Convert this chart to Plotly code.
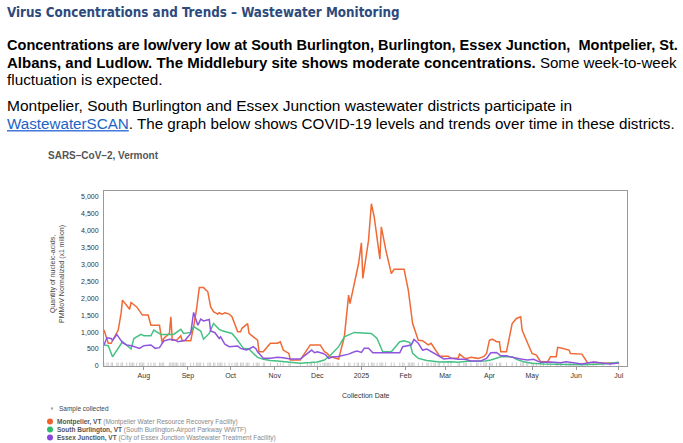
import plotly.graph_objects as go

# ---------------- data ----------------
montpelier_dates = ["2024-07-04","2024-07-07","2024-07-09","2024-07-14","2024-07-16","2024-07-17","2024-07-22","2024-07-23","2024-07-27","2024-07-31",
"2024-08-04","2024-08-06","2024-08-12","2024-08-14","2024-08-15","2024-08-19","2024-08-20","2024-08-21","2024-08-24","2024-08-27","2024-08-28",
"2024-09-03","2024-09-05","2024-09-07","2024-09-09","2024-09-12","2024-09-15","2024-09-17","2024-09-19","2024-09-22","2024-09-23","2024-09-25","2024-09-27","2024-09-30",
"2024-10-02","2024-10-04","2024-10-06","2024-10-08","2024-10-09","2024-10-13","2024-10-14","2024-10-17","2024-10-20","2024-10-21","2024-10-24","2024-10-25","2024-10-29",
"2024-11-03","2024-11-05","2024-11-07","2024-11-11","2024-11-12","2024-11-19","2024-11-26",
"2024-12-03","2024-12-06","2024-12-08","2024-12-10","2024-12-16","2024-12-20","2024-12-23","2024-12-24","2024-12-27","2024-12-30",
"2025-01-01","2025-01-02","2025-01-06","2025-01-08","2025-01-10","2025-01-14","2025-01-15","2025-01-18","2025-01-22","2025-01-24","2025-01-31",
"2025-02-03","2025-02-06","2025-02-10","2025-02-13","2025-02-17","2025-02-19","2025-02-22","2025-02-24","2025-02-25",
"2025-03-03","2025-03-05","2025-03-10","2025-03-11","2025-03-14","2025-03-16","2025-03-19","2025-03-24","2025-03-28","2025-03-30",
"2025-04-01","2025-04-03","2025-04-06","2025-04-08","2025-04-09","2025-04-13","2025-04-17","2025-04-20","2025-04-23","2025-04-24","2025-04-27",
"2025-05-01","2025-05-04","2025-05-07","2025-05-12","2025-05-14","2025-05-18","2025-05-19","2025-05-22","2025-05-27","2025-05-28",
"2025-06-05","2025-06-09","2025-06-13","2025-06-15","2025-06-20","2025-06-25","2025-07-01"]
montpelier_values = [1060,670,670,1060,1550,1940,1670,1870,1740,1500,
1500,1200,1200,670,810,960,1450,760,760,890,745,
745,1160,1650,2310,2310,2185,1740,1600,1530,1570,1530,1570,1530,
1450,1250,1010,1010,1110,1250,960,860,760,420,420,470,670,
670,715,470,370,176,176,620,
620,420,370,274,206,860,2090,1840,2430,3020,
3630,2580,3700,4780,4390,3150,4100,3450,2720,2850,2850,
2230,1250,760,745,620,670,470,370,290,
290,225,225,350,245,225,255,225,275,370,
760,790,715,715,420,420,1250,1400,1450,1060,760,
370,323,127,127,275,275,550,520,470,370,
350,98,108,108,78,78,98]

south_burlington_dates = ["2024-07-04","2024-07-07","2024-07-10","2024-07-17","2024-07-23","2024-07-25","2024-07-30",
"2024-08-01","2024-08-06","2024-08-08","2024-08-13","2024-08-22","2024-08-27","2024-08-29",
"2024-09-03","2024-09-05","2024-09-10","2024-09-12","2024-09-16","2024-09-19","2024-09-23","2024-09-25",
"2024-10-02","2024-10-05","2024-10-10","2024-10-14","2024-10-17","2024-10-20","2024-10-24","2024-10-29",
"2024-11-03","2024-11-07","2024-11-12","2024-11-19","2024-11-26",
"2024-12-01","2024-12-06","2024-12-10","2024-12-16","2024-12-20","2024-12-27",
"2025-01-08","2025-01-12","2025-01-16","2025-01-22","2025-01-28","2025-01-31",
"2025-02-04","2025-02-06","2025-02-10","2025-02-16","2025-02-25",
"2025-03-05","2025-03-10","2025-03-16","2025-03-23","2025-03-29",
"2025-04-02","2025-04-06","2025-04-09","2025-04-17","2025-04-20","2025-04-25",
"2025-05-01","2025-05-09","2025-05-22","2025-06-05","2025-06-20","2025-07-01"]
south_burlington_values = [620,600,270,715,500,810,930,
890,890,1060,930,930,1080,960,
990,1160,1030,790,960,1250,1080,1040,
960,810,520,500,370,255,196,160,
147,130,100,80,100,
120,176,310,570,860,990,
960,810,420,420,715,745,
690,370,225,160,120,
127,108,137,147,147,
176,225,275,275,196,127,
78,59,50,40,60,110]

essex_dates = ["2024-07-04","2024-07-06","2024-07-09","2024-07-10","2024-07-13","2024-07-17","2024-07-20","2024-07-24","2024-07-29",
"2024-08-01","2024-08-06","2024-08-09","2024-08-12","2024-08-15","2024-08-19","2024-08-23","2024-08-25","2024-08-30",
"2024-09-03","2024-09-05","2024-09-08","2024-09-10","2024-09-12","2024-09-16","2024-09-17","2024-09-20","2024-09-23","2024-09-24","2024-09-27","2024-09-30",
"2024-10-06","2024-10-08","2024-10-12","2024-10-14","2024-10-17","2024-10-19","2024-10-20","2024-10-24","2024-10-29",
"2024-11-03","2024-11-07","2024-11-12","2024-11-19","2024-11-24","2024-11-27","2024-11-29",
"2024-12-01","2024-12-05","2024-12-07","2024-12-09","2024-12-12","2024-12-15","2024-12-20","2024-12-23","2024-12-27","2024-12-29",
"2025-01-01","2025-01-03","2025-01-06","2025-01-09","2025-01-28","2025-01-30",
"2025-02-05","2025-02-07","2025-02-10","2025-02-13","2025-02-16","2025-02-21","2025-02-25","2025-02-28",
"2025-03-05","2025-03-10","2025-03-15","2025-03-19","2025-03-26","2025-03-30",
"2025-04-02","2025-04-06","2025-04-09","2025-04-13","2025-04-17","2025-04-20","2025-04-24","2025-04-28",
"2025-05-02","2025-05-07","2025-05-14","2025-05-21","2025-05-25","2025-05-30",
"2025-06-05","2025-06-13","2025-06-15","2025-06-20","2025-06-25","2025-07-01"]
essex_values = [620,830,810,760,930,690,620,590,520,
600,620,520,540,735,790,760,715,760,
960,1580,1200,1380,1330,1370,1030,980,810,860,640,570,
590,520,470,500,570,500,420,225,225,
255,245,206,206,370,470,390,
420,370,323,225,274,274,323,350,420,440,
400,520,520,390,390,570,
620,780,670,470,500,370,274,206,
225,196,196,147,147,225,
390,400,300,300,255,225,196,176,
196,108,118,98,127,98,
59,118,108,78,59,88]

series_names = ["Montpelier, VT", "South Burlington, VT", "Essex Junction, VT"]
facility_names = ["Montpelier Water Resource Recovery Facility",
                  "South Burlington-Airport Parkway WWTF",
                  "City of Essex Junction Wastewater Treatment Facility"]
series_colors = ["#ef6a35", "#45c184", "#8f55de"]
legend_dot_colors = ["#f0622a", "#2fbc6f", "#8a45df"]
y_ticks = [0, 500, 1000, 1500, 2000, 2500, 3000, 3500, 4000, 4500, 5000]
x_tick_dates = ["2024-08-01", "2024-09-01", "2024-10-01", "2024-11-01", "2024-12-01", "2025-01-01",
                "2025-02-01", "2025-03-01", "2025-04-01", "2025-05-01", "2025-06-01", "2025-07-01"]
x_tick_labels = ["Aug", "Sep", "Oct", "Nov", "Dec", "2025", "Feb", "Mar", "Apr", "May", "Jun", "Jul"]

# ---------------- layout geometry ----------------
WIDTH, HEIGHT = 683, 443
L, R, T, B = 104, 56, 191, 77
PW = WIDTH - L - R
PH = HEIGHT - T - B


def fx(px):
    return (px - L) / PW


def fy(py):
    return (HEIGHT - B - py) / PH


fig = go.Figure()

# sample-collected rug (dates of all samples in the data)
sample_dates = sorted(set(montpelier_dates) | set(south_burlington_dates) | set(essex_dates))
fig.add_trace(go.Scatter(
    x=sample_dates, y=[40] * len(sample_dates), mode="markers",
    marker=dict(symbol="line-ns", size=3, line=dict(width=1, color="#cccccc")),
    hoverinfo="skip", showlegend=False))

for dates, vals, name, col in zip(
        [montpelier_dates, south_burlington_dates, essex_dates],
        [montpelier_values, south_burlington_values, essex_values],
        series_names, series_colors):
    fig.add_trace(go.Scatter(x=dates, y=vals, mode="lines", name=name,
                             line=dict(color=col, width=1.5), showlegend=False))

axis_font = dict(family="Liberation Sans, Arial", size=7, color="#333333")
fig.update_layout(
    width=WIDTH, height=HEIGHT,
    margin=dict(l=L, r=R, t=T, b=B, pad=0),
    paper_bgcolor="white", plot_bgcolor="white",
    showlegend=False,
    xaxis=dict(range=["2024-07-04", "2025-07-06 18:00"], showgrid=False, zeroline=False,
               showline=True, linecolor="#999999", linewidth=1, mirror=True,
               ticks="outside", ticklen=3, tickcolor="#999999",
               tickvals=x_tick_dates, ticktext=x_tick_labels,
               tickfont=axis_font),
    yaxis=dict(range=[0, 5156], showgrid=False, zeroline=False,
               showline=True, linecolor="#999999", linewidth=1, mirror=True,
               ticks="outside", ticklen=3, tickcolor="#ffffff",
               tickvals=y_ticks, tickformat=",d", tickfont=axis_font),
)

annotations = []
body_font = "Liberation Sans, Arial, sans-serif"
title_font = "DejaVu Sans Condensed, DejaVu Sans, sans-serif"


def add_text(text, px, py, size, color="#000000", family=body_font, xanchor="left", **kw):
    annotations.append(dict(text=text, x=fx(px), y=fy(py), xref="paper", yref="paper",
                            xanchor=xanchor, yanchor="middle", showarrow=False,
                            font=dict(family=family, size=size, color=color), **kw))


add_text("<b>Virus Concentrations and Trends – Wastewater Monitoring</b>",
         5, 13, 13.3, color="#2e4a7d", family=title_font)
add_text("<b>Concentrations are low/very low at South Burlington, Burlington, Essex Junction,  Montpelier, St.</b>",
         5, 45, 14.55)
add_text("<b><span style='font-size:15px'>Albans, and Ludlow. The Middlebury site shows moderate concentrations.</span></b>"
         " Some week-to-week", 5, 62, 15.1)
add_text("fluctuation is expected.", 5, 79, 15.3)
add_text("Montpelier, South Burlington and Essex Junction wastewater districts participate in", 5, 105, 15.5)
add_text("<a href='https://www.wastewaterscan.org/'><u><span style='color:#1b63c6'>WastewaterSCAN</span></u></a>"
         ". The graph below shows COVID-19 levels and trends over time in these districts.", 5, 123, 15.2)

chart_font = "Liberation Sans, Arial, sans-serif"
add_text("<b>SARS–CoV–2, Vermont</b>", 46, 155, 10, color="#555555", family=chart_font)
add_text("Quantity of nucleic-acids,<br>PMMoV Normalized (x1 million)", 57, 274, 7, color="#444444",
         family=chart_font, xanchor="center", textangle=-90)
add_text("Collection Date", 366, 395, 7, color="#333333", family=chart_font, xanchor="center")
add_text("Sample collected", 57, 408.5, 6.5, color="#444444", family=chart_font)

legend_y = [421.5, 429.5, 437.5]
for name, fac, py in zip(series_names, facility_names, legend_y):
    add_text(f"<b>{name}</b> <span style='color:#888888'>({fac})</span>", 55, py, 6.5,
             color="#555555", family=chart_font)

shapes = [dict(type="circle", xref="paper", yref="paper", xsizemode="pixel", ysizemode="pixel",
               xanchor=fx(52), yanchor=fy(408.5), x0=-1.3, x1=1.3, y0=-1.3, y1=1.3,
               fillcolor="#aaaaaa", line=dict(width=0))]
for col, py in zip(legend_dot_colors, legend_y):
    shapes.append(dict(type="circle", xref="paper", yref="paper", xsizemode="pixel", ysizemode="pixel",
                       xanchor=fx(50), yanchor=fy(py), x0=-3, x1=3, y0=-3, y1=3,
                       fillcolor=col, line=dict(width=0)))

fig.update_layout(annotations=annotations, shapes=shapes)
fig.write_html("out.html")
